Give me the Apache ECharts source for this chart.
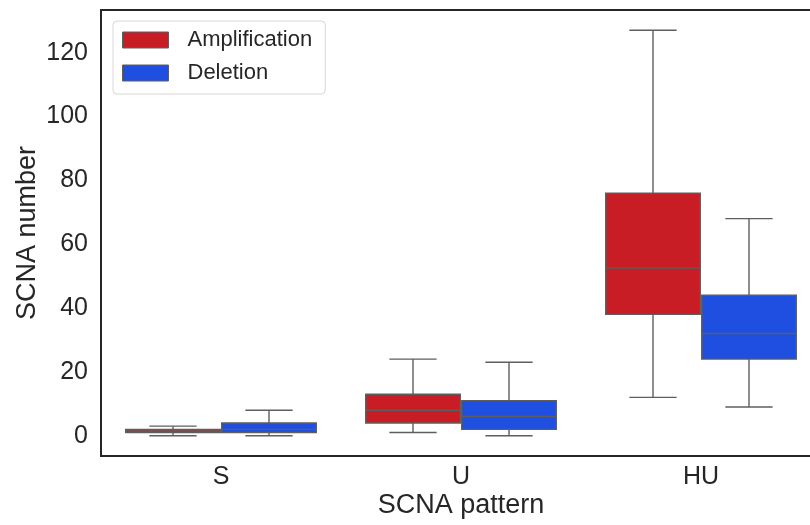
<!DOCTYPE html>
<html>
<head>
<meta charset="utf-8">
<script src="https://cdn.jsdelivr.net/npm/echarts@6/dist/echarts.min.js"></script>
<style>
  html, body { margin: 0; padding: 0; background: #fff; overflow: hidden; }
  /* the plot runs past the right edge of the window, so its right frame is cut off */
  #chart { width: 822px; height: 525px; }
</style>
</head>
<body>
<div id="chart"></div>
<script>
// SCNA counts per pattern: [whisker low, Q1, median, Q3, whisker high]
const categories = ['S', 'U', 'HU'];
const amplification = [
  [0, 1, 1.5, 2, 3],
  [1, 4, 8, 13, 24],
  [12, 38, 52.5, 76, 127]
];
const deletion = [
  [0, 1, 2, 4, 8],
  [0, 2, 6, 11, 23],
  [9, 24, 32, 44, 68]
];
const yTicks = [0, 20, 40, 60, 80, 100, 120];

const FONT = 'Liberation Sans, Arial, sans-serif';
const RED = '#C91D26';
const BLUE = '#1F4FE0';
const LINE = '#5e5e5e';
const LW = 1.4;

function toRows(stats) {
  return stats.map((s, i) => [i].concat(s));
}

// Draws one hue's box next to its neighbour inside a category band
function makeBoxRenderer(offsetFrac) {
  return function (params, api) {
    const idx = api.value(0);
    const band = api.size([1, 0])[0];
    const cx = api.coord([idx, 0])[0] + offsetFrac * band;
    const w = band * 0.394;
    const cap = w / 2;
    const y = k => api.coord([idx, api.value(k)])[1];
    const yLow = y(1), yQ1 = y(2), yMed = y(3), yQ3 = y(4), yHigh = y(5);
    const lineStyle = { stroke: LINE, lineWidth: LW };
    return {
      type: 'group',
      children: [
        { type: 'line', shape: { x1: cx, y1: yQ3, x2: cx, y2: yHigh }, style: lineStyle },
        { type: 'line', shape: { x1: cx, y1: yQ1, x2: cx, y2: yLow }, style: lineStyle },
        { type: 'line', shape: { x1: cx - cap / 2, y1: yHigh, x2: cx + cap / 2, y2: yHigh }, style: lineStyle },
        { type: 'line', shape: { x1: cx - cap / 2, y1: yLow, x2: cx + cap / 2, y2: yLow }, style: lineStyle },
        {
          type: 'rect',
          shape: { x: cx - w / 2, y: yQ3, width: w, height: yQ1 - yQ3 },
          style: { fill: api.visual('color'), stroke: LINE, lineWidth: LW }
        },
        { type: 'line', shape: { x1: cx - w / 2, y1: yMed, x2: cx + w / 2, y2: yMed }, style: lineStyle }
      ]
    };
  };
}

const chart = echarts.init(document.getElementById('chart'), null, { renderer: 'canvas' });

chart.setOption({
  backgroundColor: '#fff',
  animation: false,
  textStyle: { fontFamily: FONT },
  grid: {
    left: 101, right: 1, top: 10, bottom: 69,
    show: true, borderColor: '#262626', borderWidth: 2, backgroundColor: 'transparent'
  },
  legend: {
    left: 113, top: 21,
    orient: 'vertical',
    itemWidth: 46, itemHeight: 16, itemGap: 11,
    padding: [8, 13, 10, 9],
    backgroundColor: '#fff',
    borderColor: '#d6d6d6', borderWidth: 1, borderRadius: 4,
    textStyle: { fontFamily: FONT, fontSize: 22, color: '#262626', padding: [0, 0, 0, 14] },
    data: [
      { name: 'Amplification', icon: 'rect', itemStyle: { color: RED, borderColor: LINE, borderWidth: 1 } },
      { name: 'Deletion', icon: 'rect', itemStyle: { color: BLUE, borderColor: LINE, borderWidth: 1 } }
    ]
  },
  xAxis: {
    type: 'category',
    data: categories,
    name: 'SCNA pattern',
    nameLocation: 'middle',
    nameGap: 36,
    nameMoveOverlap: false,
    nameTextStyle: { fontFamily: FONT, fontSize: 27, color: '#262626' },
    axisLine: { show: false },
    axisTick: { show: false },
    axisLabel: { fontFamily: FONT, fontSize: 25, color: '#262626', margin: 9 },
    splitLine: { show: false }
  },
  yAxis: {
    type: 'value',
    min: -6.35, max: 133.35,
    name: 'SCNA number',
    nameLocation: 'middle',
    nameGap: 60,
    nameMoveOverlap: false,
    nameTextStyle: { fontFamily: FONT, fontSize: 27, color: '#262626' },
    axisLine: { show: false },
    axisTick: { show: false },
    splitLine: { show: false },
    axisLabel: {
      fontFamily: FONT, fontSize: 25, color: '#262626', margin: 13,
      customValues: yTicks
    }
  },
  series: [
    {
      name: 'Amplification',
      type: 'custom',
      itemStyle: { color: RED },
      encode: { x: 0, y: [1, 2, 3, 4, 5] },
      renderItem: makeBoxRenderer(-0.2),
      data: toRows(amplification)
    },
    {
      name: 'Deletion',
      type: 'custom',
      itemStyle: { color: BLUE },
      encode: { x: 0, y: [1, 2, 3, 4, 5] },
      renderItem: makeBoxRenderer(0.2),
      data: toRows(deletion)
    }
  ]
});
</script>
</body>
</html>
